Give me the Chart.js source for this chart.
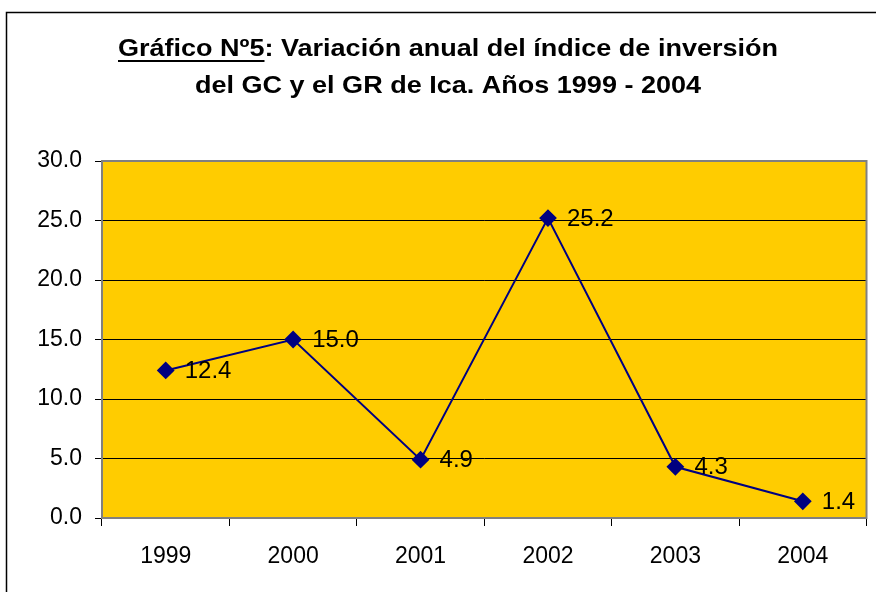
<!DOCTYPE html>
<html>
<head>
<meta charset="utf-8">
<script src="https://cdn.jsdelivr.net/npm/chart.js@4/dist/chart.umd.min.js"></script>
<style>
  body { margin: 0; background: #fff; }
  #wrap { width: 876px; height: 592px; position: relative; }
</style>
</head>
<body>
<div id="wrap"><canvas id="grafico" width="876" height="592"></canvas></div>
<script>
var anios = ['1999', '2000', '2001', '2002', '2003', '2004'];
var valores = [12.4, 15.0, 4.9, 25.2, 4.3, 1.4];
var ticksY = [0, 5, 10, 15, 20, 25, 30];

var fuente = '"Liberation Sans", Arial, sans-serif';

// titulo con subrayado parcial y marco exterior
var titulo = {
    id: 'titulo',
    beforeDraw(chart){
        const ctx = chart.ctx;
        ctx.save();
        ctx.strokeStyle = '#000';
        ctx.lineWidth = 1.5;
        ctx.beginPath();
        ctx.moveTo(6.5, 592);
        ctx.lineTo(6.5, 12.5);
        ctx.lineTo(876, 12.5);
        ctx.stroke();

        ctx.font = 'bold 24px ' + fuente;
        ctx.fillStyle = '#000';
        ctx.textBaseline = 'middle';
        const p1 = 'Gráfico Nº5';
        const p2 = ': Variación anual del índice de inversión';
        const w1 = ctx.measureText(p1).width;
        const w2 = ctx.measureText(p2).width;
        const sx = 660 / (w1 + w2);   // el original esta estirado a lo ancho
        ctx.translate(448, 0);
        ctx.scale(sx, 1);
        let x = -(w1 + w2) / 2;
        ctx.textAlign = 'left';
        ctx.fillText(p1, x, 49);
        ctx.fillRect(x, 60, w1, 2);
        ctx.fillText(p2, x + w1, 49);
        ctx.textAlign = 'center';
        ctx.fillText('del GC y el GR de Ica. Años 1999 - 2004', 0, 86);
        ctx.restore();

        // fondo del area de trazado
        const a = chart.chartArea;
        ctx.save();
        ctx.fillStyle = '#FFCC00';
        ctx.fillRect(a.left, a.top, a.right - a.left, a.bottom - a.top);
        ctx.restore();
    },
    afterDatasetsDraw(chart){
        const ctx = chart.ctx;
        const meta = chart.getDatasetMeta(0);
        ctx.save();
        ctx.font = '24px ' + fuente;
        ctx.fillStyle = '#000';
        ctx.textAlign = 'left';
        ctx.textBaseline = 'middle';
        meta.data.forEach(function(pt, i){
            ctx.fillText(valores[i].toFixed(1), pt.x + 19, pt.y + 1);
        });
        ctx.restore();
    },
    beforeDatasetsDraw(chart){
        const ctx = chart.ctx;
        const a = chart.chartArea;
        ctx.save();
        ctx.strokeStyle = '#808080';
        ctx.lineWidth = 2;
        ctx.strokeRect(a.left, a.top, a.right - a.left, a.bottom - a.top);
        ctx.restore();
    }
};

new Chart(document.getElementById('grafico'), {
    type: 'line',
    data: {
        labels: anios,
        datasets: [{
            data: valores,
            borderColor: '#000080',
            backgroundColor: '#000080',
            borderWidth: 2,
            pointStyle: 'rectRot',
            pointRadius: 7.5,
            pointHoverRadius: 7.5,
            tension: 0
        }]
    },
    options: {
        responsive: false,
        animation: false,
        layout: { padding: { left: 0, top: 161, right: 9, bottom: 0 } },
        plugins: {
            legend: { display: false },
            tooltip: { enabled: false }
        },
        scales: {
            x: {
                offset: true,
                afterFit(s){ s.height = 74; },
                grid: {
                    offset: true,
                    drawOnChartArea: false,
                    tickLength: 8,
                    tickColor: '#000',
                    tickWidth: 1
                },
                border: { display: false },
                ticks: {
                    color: '#000',
                    padding: 17,
                    font: { family: fuente, size: 23 }
                }
            },
            y: {
                min: 0,
                max: 30,
                afterFit(s){ s.width = 102; },
                afterBuildTicks(s){ s.ticks = ticksY.map(function(v){ return { value: v }; }); },
                grid: {
                    color: '#000',
                    lineWidth: 1,
                    tickLength: 7,
                    tickColor: '#000'
                },
                border: { display: false },
                ticks: {
                    color: '#000',
                    padding: 13,
                    font: { family: fuente, size: 23 },
                    callback: function(v){ return Number(v).toFixed(1); }
                }
            }
        }
    },
    plugins: [titulo]
});
</script>
</body>
</html>
